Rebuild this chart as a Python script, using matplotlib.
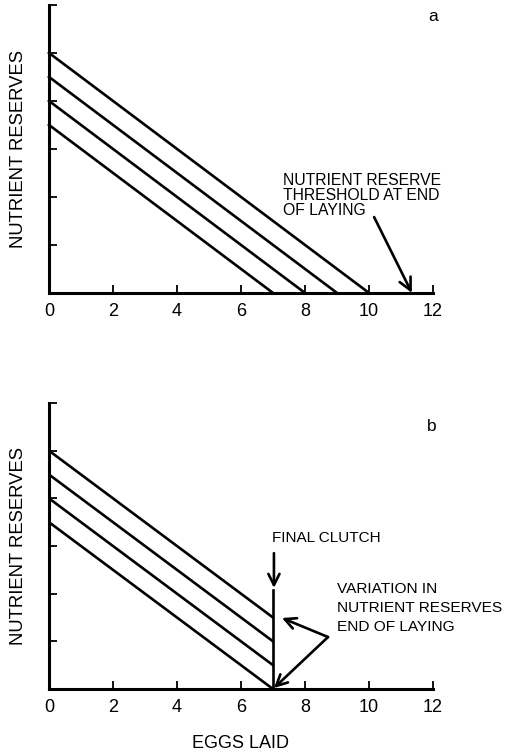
import matplotlib.pyplot as plt

plt.rcParams['font.family'] = ['Liberation Sans', 'DejaVu Sans']

# reserves at start of laying and clutch size at which the threshold is hit
start_reserves = [5.0, 4.5, 4.0, 3.5]
clutch_ends = [10, 9, 8, 7]
final_clutch = 7
x_ticks = [0, 2, 4, 6, 8, 10, 12]
y_ticks = [0, 1, 2, 3, 4, 5, 6]

fig = plt.figure(figsize=(5.1, 7.53), dpi=100)
ax_a = fig.add_axes([0.096, 0.611, 0.753, 0.3825])
ax_b = fig.add_axes([0.096, 0.085, 0.753, 0.3798])

for ax in (ax_a, ax_b):
    ax.set_xlim(0, 12)
    ax.set_ylim(0, 6)
    ax.set_xticks(x_ticks)
    ax.set_yticks(y_ticks)
    ax.set_yticklabels([])
    for s in ('top', 'right'):
        ax.spines[s].set_visible(False)
    for s in ('left', 'bottom'):
        ax.spines[s].set_linewidth(2.2)
    ax.tick_params(direction='in', length=6, width=1.3, labelsize=13, pad=7)
    ax.set_ylabel('NUTRIENT RESERVES', fontsize=13.3, labelpad=9)

# panel a: reserves decline until threshold
for r0, n in zip(start_reserves, clutch_ends):
    ax_a.plot([0, n], [r0, 0], color='black', lw=1.9, clip_on=False)
ax_a.text(12.0, 5.75, 'a', fontsize=12.5, ha='center', va='center')
ax_a.text(7.3, 2.5, 'NUTRIENT RESERVE\nTHRESHOLD AT END\nOF LAYING', fontsize=11.3,
          ha='left', va='top', linespacing=1.0)
ax_a.annotate('', xy=(11.34, 0.0), xytext=(10.16, 1.58),
              arrowprops=dict(arrowstyle='->', lw=1.9, mutation_scale=22, color='black',
                              shrinkA=0, shrinkB=0))

# panel b: all females stop at the same clutch
for r0, n in zip(start_reserves, clutch_ends):
    slope = r0 / n
    ax_b.plot([0, final_clutch], [r0, r0 - slope * final_clutch], color='black', lw=1.9)
ax_b.plot([final_clutch, final_clutch], [0, 2.07], color='black', lw=1.9)
ax_b.text(11.97, 5.5, 'b', fontsize=12.5, ha='center', va='center')
ax_b.text(6.97, 3.17, 'FINAL CLUTCH', fontsize=11.0, ha='left', va='center')
ax_b.annotate('', xy=(7.03, 2.12), xytext=(7.03, 2.85),
              arrowprops=dict(arrowstyle='->', lw=1.9, mutation_scale=20, color='black',
                              shrinkA=0, shrinkB=0))
ax_b.text(9.0, 1.70, 'VARIATION IN\nNUTRIENT RESERVES\nEND OF LAYING', fontsize=11.1,
          ha='left', va='center', linespacing=1.45)
for tip in [(7.28, 1.49), (7.03, 0.02)]:
    ax_b.annotate('', xy=tip, xytext=(8.72, 1.09),
                  arrowprops=dict(arrowstyle='->', lw=1.9, mutation_scale=20, color='black',
                                  shrinkA=0, shrinkB=0))
ax_b.set_xlabel('EGGS LAID', fontsize=13, labelpad=14)

fig.savefig('out.png', dpi=100)
